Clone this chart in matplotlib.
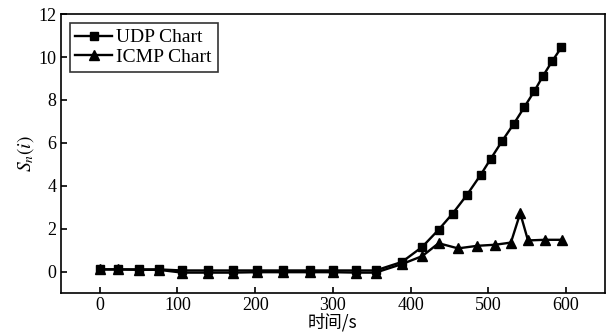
import numpy as np
import matplotlib.pyplot as plt

udp_t = [0, 23, 51, 76, 106, 139, 172, 202, 236, 271, 300, 330, 355,
         389, 415, 436, 454, 472, 490, 503, 518, 533, 546, 559, 570, 582, 594]
udp_s = [0.1, 0.1, 0.1, 0.1, 0.05, 0.05, 0.05, 0.05, 0.05, 0.05, 0.05, 0.05, 0.05,
         0.45, 1.15, 1.95, 2.7, 3.55, 4.5, 5.25, 6.1, 6.9, 7.65, 8.4, 9.1, 9.8, 10.45]

icmp_t = [0, 23, 51, 76, 106, 139, 172, 202, 236, 271, 300, 330, 355,
          389, 415, 436, 461, 486, 509, 529, 541, 551, 573, 595]
icmp_s = [0.1, 0.1, 0.08, 0.08, -0.05, -0.05, -0.05, -0.03, -0.03, -0.03, -0.03, -0.05, -0.05,
          0.35, 0.72, 1.32, 1.08, 1.2, 1.25, 1.35, 2.72, 1.45, 1.48, 1.48]

plt.rcParams["font.family"] = ["Liberation Serif", "Noto Sans CJK SC"]
plt.rcParams["mathtext.fontset"] = "stix"

fig = plt.figure(figsize=(6.08, 3.36), dpi=100)
ax = fig.add_axes([0.100, 0.128, 0.895, 0.830])

ax.plot(udp_t, udp_s, "-s", color="black", lw=1.7, ms=6.2, label="UDP Chart")
ax.plot(icmp_t, icmp_s, "-^", color="black", lw=1.7, ms=7, label="ICMP Chart")

ax.set_xlim(-50, 650)
ax.set_ylim(-1, 12)
ax.set_xticks(np.arange(0, 601, 100))
ax.set_yticks(np.arange(0, 13, 2))
ax.tick_params(direction="in", labelsize=13, top=False, right=False, length=4, width=1.2, pad=3)
for sp in ax.spines.values():
    sp.set_linewidth(1.2)

ax.set_ylabel("$S_n(i)$", fontsize=14, labelpad=2)
ax.set_xlabel("时间/s", fontsize=12.5, labelpad=0, family=["Noto Sans CJK SC"])
ax.xaxis.set_label_coords(0.5, -0.07)

leg = ax.legend(loc="upper left", fontsize=14, frameon=True, fancybox=False,
                edgecolor="black", handlelength=1.9, borderaxespad=0.45,
                borderpad=0.3, labelspacing=0.1, handletextpad=0.2)
leg.get_frame().set_linewidth(1.2)

fig.savefig("out.png", dpi=100)
